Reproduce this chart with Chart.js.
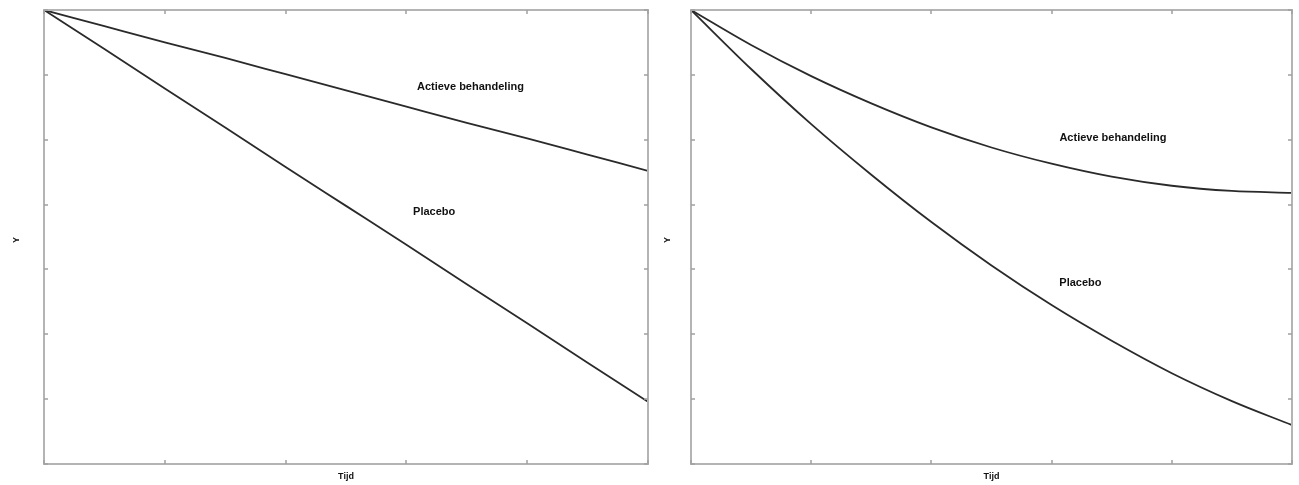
<!DOCTYPE html>
<html>
<head>
<meta charset="utf-8">
<script src="https://cdn.jsdelivr.net/npm/chart.js@4.4.1/dist/chart.umd.min.js"></script>
<style>
  html, body { margin: 0; padding: 0; background: #fff; }
  #wrap { position: relative; width: 1299px; height: 485px; }
  .box { position: absolute; top: 0; height: 485px; }
</style>
</head>
<body>
<div id="wrap">
  <div class="box" style="left:0;width:660px"><canvas id="lineair"></canvas></div>
  <div class="box" style="left:650px;width:649px"><canvas id="curve"></canvas></div>
</div>
<script>
const tijd = [0, 0.5, 1, 1.5, 2, 2.5, 3, 3.5, 4, 4.5, 5];

// linker paneel: rechte lijnen
const actieveLinks = [7, 6.75, 6.50, 6.26, 6.01, 5.76, 5.51, 5.26, 5.02, 4.77, 4.52];
const placeboLinks = [7, 6.40, 5.79, 5.19, 4.58, 3.98, 3.38, 2.77, 2.17, 1.56, 0.96];

// rechter paneel: gebogen lijnen
const actieveRechts = [7, 6.46, 5.98, 5.56, 5.19, 4.88, 4.63, 4.43, 4.29, 4.21, 4.18];
const placeboRechts = [7, 6.09, 5.24, 4.46, 3.73, 3.06, 2.45, 1.90, 1.40, 0.97, 0.60];

const xTicks = [0, 1, 2, 3, 4, 5];
const yTicks = [0, 1, 2, 3, 4, 5, 6, 7];

const labelsLinks = [
    { text: 'Actieve behandeling', x: 3.53, y: 5.81 },
    { text: 'Placebo', x: 3.23, y: 3.89 }
];
const labelsRechts = [
    { text: 'Actieve behandeling', x: 3.51, y: 5.03 },
    { text: 'Placebo', x: 3.24, y: 2.79 }
];

const pts = (ys) => ys.map((y, i) => ({ x: tijd[i], y: y }));

// frame, inner ticks, axis titles and text labels
const framePlugin = {
    id: 'frame',
    afterDatasetsDraw(chart, args, opts) {
        const ctx = chart.ctx;
        const a = chart.chartArea;
        const xs = chart.scales.x;
        const ys = chart.scales.y;
        ctx.save();
        ctx.strokeStyle = '#b4b4b4';
        ctx.lineWidth = 2;
        ctx.strokeRect(a.left, a.top, a.right - a.left, a.bottom - a.top);

        ctx.strokeStyle = '#a0a0a0';
        ctx.lineWidth = 1.5;
        xTicks.forEach(v => {
            const px = Math.round(xs.getPixelForValue(v));
            ctx.beginPath();
            ctx.moveTo(px, a.bottom); ctx.lineTo(px, a.bottom - 4);
            ctx.moveTo(px, a.top); ctx.lineTo(px, a.top + 4);
            ctx.stroke();
        });
        yTicks.forEach(v => {
            const py = Math.round(ys.getPixelForValue(v));
            ctx.beginPath();
            ctx.moveTo(a.left, py); ctx.lineTo(a.left + 4, py);
            ctx.moveTo(a.right, py); ctx.lineTo(a.right - 4, py);
            ctx.stroke();
        });

        ctx.fillStyle = '#111';
        ctx.font = 'bold 11px "Liberation Sans", Arial, sans-serif';
        ctx.textAlign = 'center';
        ctx.textBaseline = 'middle';
        opts.labels.forEach(l => {
            ctx.fillText(l.text, xs.getPixelForValue(l.x), ys.getPixelForValue(l.y));
        });

        ctx.font = 'bold 9px "Liberation Sans", Arial, sans-serif';
        ctx.fillText('Tijd', (a.left + a.right) / 2, a.bottom + 13);
        ctx.translate(a.left - opts.yTitleGap, (a.top + a.bottom) / 2 + 3);
        ctx.rotate(-Math.PI / 2);
        ctx.fillText('Y', 0, 0);
        ctx.restore();
    }
};

function makeChart(id, actieve, placebo, labels, pad, yTitleGap) {
    return new Chart(document.getElementById(id), {
        type: 'line',
        data: {
            datasets: [
                { label: 'Actieve behandeling', data: pts(actieve) },
                { label: 'Placebo', data: pts(placebo) }
            ]
        },
        options: {
            responsive: true,
            maintainAspectRatio: false,
            animation: false,
            layout: { padding: pad },
            elements: {
                line: { borderColor: '#2a2a2a', borderWidth: 1.8, cubicInterpolationMode: 'monotone' },
                point: { radius: 0 }
            },
            plugins: {
                legend: { display: false },
                tooltip: { enabled: false },
                frame: { labels: labels, yTitleGap: yTitleGap }
            },
            scales: {
                x: {
                    type: 'linear', min: 0, max: 5,
                    ticks: { display: false },
                    grid: { display: false },
                    border: { display: false },
                    afterFit: (s) => { s.height = 0; }
                },
                y: {
                    min: 0, max: 7,
                    ticks: { display: false },
                    grid: { display: false },
                    border: { display: false },
                    afterFit: (s) => { s.width = 0; }
                }
            }
        },
        plugins: [framePlugin]
    });
}

makeChart('lineair', actieveLinks, placeboLinks, labelsLinks,
    { left: 44, top: 10, right: 12, bottom: 21 }, 27);
makeChart('curve', actieveRechts, placeboRechts, labelsRechts,
    { left: 41, top: 10, right: 7, bottom: 21 }, 23);
</script>
</body>
</html>
